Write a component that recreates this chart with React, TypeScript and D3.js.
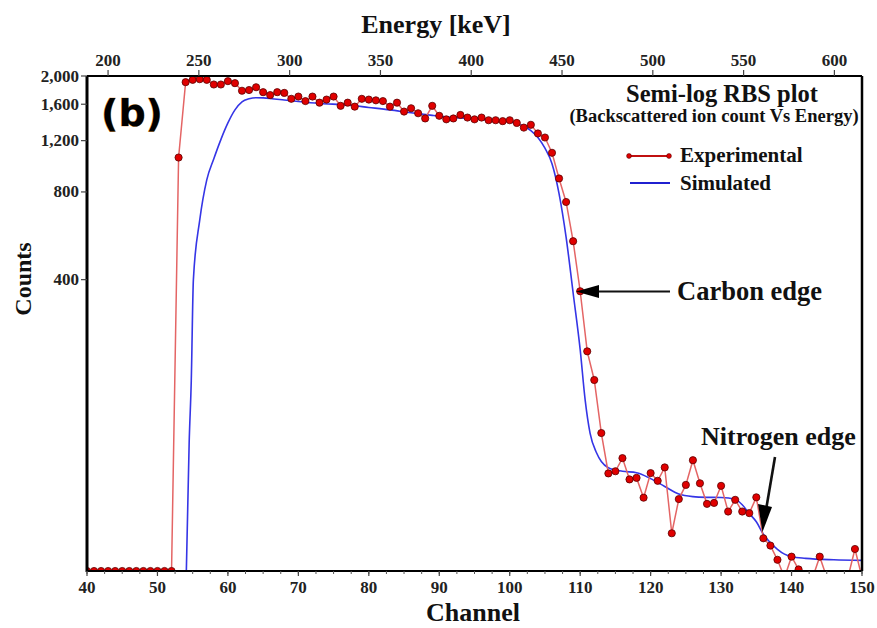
import React from "react";
import * as d3 from "d3";

// Experimental counts, one value per channel 40..150
const expChannels: number[] = d3.range(40, 151);
const expCounts: number[] = [
  40, 40, 40, 40, 40, 40, 40, 40, 40, 40, 40, 40, 40, // 40-52
  1050, 1905, 1940, 1950, 1940, 1870, 1870, 1920, 1890, 1780, // 53-62
  1790, 1830, 1760, 1720, 1760, 1750, 1670, 1700, 1640, 1700, // 63-72
  1620, 1660, 1700, 1580, 1620, 1570, 1670, 1660, 1650, 1640, // 73-82
  1570, 1620, 1510, 1550, 1490, 1430, 1580, 1460, 1420, 1430, // 83-92
  1470, 1440, 1420, 1440, 1410, 1410, 1400, 1410, 1380, 1330, // 93-102
  1360, 1270, 1230, 1090, 890, 739, 542, 365, 227, 181, // 103-112
  119, 86.5, 88, 97.6, 82.5, 83.5, 71.4, 86.7, 81.6, 90.7, // 113-122
  53.9, 70.6, 79, 96, 80, 68, 68.5, 78.4, 64, 70.2, // 123-132
  64, 63.2, 71.6, 51.8, 48.9, 43.7, 38, 44.8, 40.5, 38, // 133-142
  38, 44.8, 38, 38, 38, 38, 47.6, 38, // 143-150
];

// Simulated curve (channel, counts)
const simChannels: number[] = [
  54.1, 54.5, 54.8, 55.1, 56, 57, 58, 59, 60, 61, 62, 63, 64, 65, 66, 68, 70, 73, 77, 80,
  83, 86, 89, 92, 95, 98, 100, 101, 102, 103, 104, 105, 106, 107, 108, 109, 110, 110.7,
  111.4, 112.3, 113, 114, 116, 118, 120, 122, 124, 126, 128, 130, 132, 133, 134, 135,
  136, 137, 138, 139, 140, 142, 146, 150,
];
const simCounts: number[] = [
  40, 110, 180, 400, 640, 880, 1040, 1210, 1380, 1530, 1630, 1670, 1685, 1682, 1675, 1655, 1635, 1610, 1590, 1560,
  1530, 1495, 1465, 1440, 1425, 1405, 1390, 1375, 1345, 1300, 1230, 1130, 1000, 790, 560, 360, 230, 155,
  119, 102, 95, 90.5, 88, 87, 83, 78, 73.5, 72, 71.6, 71.5, 70.5, 67.5, 63, 59,
  53.5, 50, 47.5, 45.7, 44.8, 44.2, 43.7, 43.5,
];

const countTicks: number[] = [400, 800, 1200, 1600, 2000];
const channelTicks: number[] = d3.range(40, 151, 10);
const channelMinorTicks: number[] = d3.range(40, 150.01, 2.5);
const energyTicks: number[] = [200, 250, 300, 350, 400, 450, 500, 550, 600];

const W = 877;
const H = 628;
const L = 87, R = 862, T = 76, B = 571;
const serif = "'Liberation Serif', 'Times New Roman', serif";

export default function App() {
  const x = d3.scaleLinear().domain([40, 150]).range([L, R]);
  const xE = d3.scaleLinear().domain([188.4, 615.2]).range([L, R]);
  const y = d3.scaleLog().domain([40, 2000]).range([B, T]);
  const fmt = d3.format(",");

  const expPts: [number, number][] = expChannels.map((c, i) => [c, expCounts[i]]);
  const simPts: [number, number][] = simChannels.map((c, i) => [c, simCounts[i]]);

  const expLine = d3.line<[number, number]>().x((d) => x(d[0])).y((d) => y(d[1]))(expPts) || "";
  const simLine = d3
    .line<[number, number]>()
    .x((d) => x(d[0]))
    .y((d) => y(d[1]))
    .curve(d3.curveMonotoneX)(simPts) || "";

  const redLine = "#e46565";
  const blue = "#3535e6";
  const markerFill = "#e00000";
  const markerStroke = "#5a0000";

  return (
    <svg width={W} height={H} style={{ position: "absolute", left: 0, top: 0, background: "#fff" }} fontFamily={serif}>
      <defs>
        <clipPath id="plot">
          <rect x={L} y={T - 10} width={R - L} height={B - T + 10} />
        </clipPath>
      </defs>
      <rect width={W} height={H} fill="#fff" />

      {/* data */}
      <g clipPath="url(#plot)">
        <path d={simLine} fill="none" stroke={blue} strokeWidth={1.6} />
        <path d={expLine} fill="none" stroke={redLine} strokeWidth={1.5} />
        {expPts.map((d, i) => (
          <circle key={i} cx={x(d[0])} cy={y(d[1])} r={3.6} fill={markerFill} stroke={markerStroke} strokeWidth={0.8} />
        ))}
      </g>

      {/* axes frame */}
      <line x1={L} x2={R} y1={T} y2={T} stroke="#000" strokeWidth={2} />
      <line x1={R} x2={R} y1={T} y2={B} stroke="#000" strokeWidth={2.5} />
      <line x1={L} x2={R} y1={B} y2={B} stroke="#000" strokeWidth={2} />
      <line x1={L} x2={L} y1={T} y2={B + 1} stroke="#000" strokeWidth={3} />

      {/* bottom axis */}
      {channelMinorTicks.map((t) => (
        <line key={"m" + t} x1={x(t)} x2={x(t)} y1={B} y2={B + 3} stroke="#555" strokeWidth={1} />
      ))}
      {channelTicks.map((t) => (
        <g key={"b" + t}>
          <line x1={x(t)} x2={x(t)} y1={B} y2={B + 5} stroke="#444" strokeWidth={1.2} />
          <text x={x(t)} y={593} textAnchor="middle" fontSize={17} fontWeight="bold" fill="#222">
            {t}
          </text>
        </g>
      ))}

      {/* top axis */}
      {energyTicks.map((t) => (
        <g key={"t" + t}>
          <line x1={xE(t)} x2={xE(t)} y1={T} y2={T - 6} stroke="#444" strokeWidth={1.2} />
          <text x={xE(t)} y={66} textAnchor="middle" fontSize={17} fontWeight="bold" fill="#222">
            {t}
          </text>
        </g>
      ))}

      {/* left axis */}
      {countTicks.map((t) => (
        <g key={"l" + t}>
          <line x1={L} x2={L - 6} y1={y(t)} y2={y(t)} stroke="#444" strokeWidth={1.2} />
          <text x={79} y={y(t) + 5.5} textAnchor="end" fontSize={17} fontWeight="bold" fill="#222">
            {fmt(t)}
          </text>
        </g>
      ))}

      {/* axis titles */}
      <text x={436} y={33} textAnchor="middle" fontSize={26} fontWeight="bold" fill="#111">
        Energy [keV]
      </text>
      <text x={473} y={621} textAnchor="middle" fontSize={26} fontWeight="bold" fill="#111">
        Channel
      </text>
      <text transform={`translate(31,279) rotate(-90)`} textAnchor="middle" fontSize={24} fontWeight="bold" fill="#111">
        Counts
      </text>

      {/* panel label */}
      <text x={132} y={126} textAnchor="middle" fontSize={38} fontWeight="bold" fontFamily="'DejaVu Sans', 'Liberation Sans', sans-serif" fill="#000" stroke="#e08a20" strokeWidth={0.6} paintOrder="stroke">
        (b)
      </text>

      {/* title block */}
      <text x={722} y={102} textAnchor="middle" fontSize={24.5} fontWeight="bold" fill="#111">
        Semi-log RBS plot
      </text>
      <text x={714} y={122} textAnchor="middle" fontSize={18.5} fontWeight="bold" fill="#111">
        (Backscattered ion count Vs Energy)
      </text>

      {/* legend */}
      <line x1={629} x2={669} y1={156} y2={156} stroke="#c01010" strokeWidth={2} />
      <circle cx={629} cy={156} r={2.4} fill={markerFill} stroke={markerStroke} strokeWidth={0.6} />
      <circle cx={669} cy={156} r={2.4} fill={markerFill} stroke={markerStroke} strokeWidth={0.6} />
      <text x={680} y={162} fontSize={21} fontWeight="bold" fill="#111">
        Experimental
      </text>
      <line x1={630} x2={670} y1={183} y2={183} stroke="#2020d0" strokeWidth={2} />
      <text x={680} y={190} fontSize={21} fontWeight="bold" fill="#111">
        Simulated
      </text>

      {/* carbon edge annotation */}
      <line x1={596} x2={670} y1={291.5} y2={291.5} stroke="#111" strokeWidth={2.2} />
      <path d="M576,291.5 L599,285 L599,298 Z" fill="#000" />
      <text x={677} y={300} fontSize={26.5} fontWeight="bold" fill="#111">
        Carbon edge
      </text>

      {/* nitrogen edge annotation */}
      <line x1={775} x2={766} y1={457} y2={510} stroke="#111" strokeWidth={2.6} />
      <path d="M762.5,532 L758,504 L772,507 Z" fill="#000" />
      <text x={701} y={445} fontSize={26} fontWeight="bold" fill="#111">
        Nitrogen edge
      </text>
    </svg>
  );
}
